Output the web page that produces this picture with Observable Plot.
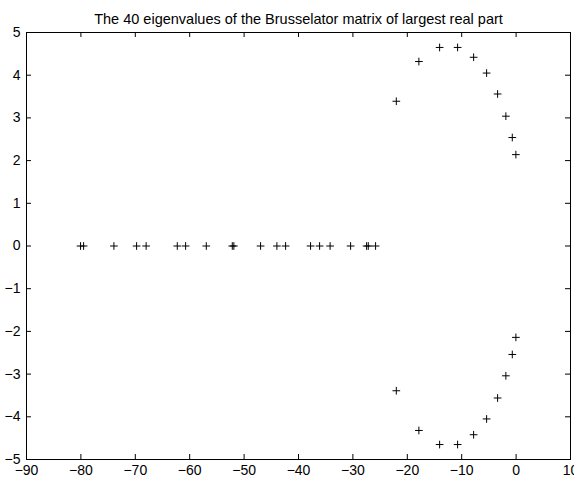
<!DOCTYPE html>
<html>
<head>
<meta charset="utf-8">
<script src="https://cdn.jsdelivr.net/npm/d3@7"></script>
<script src="https://cdn.jsdelivr.net/npm/@observablehq/plot@0.6"></script>
<style>
  html, body { margin: 0; padding: 0; background: #fff; }
  #chart svg { display: block; }
</style>
</head>
<body>
<div id="chart"></div>
<script>
// Eigenvalues on the real axis
const realRe = [-80.06, -79.50, -73.93, -69.76, -68.01, -62.28, -60.75, -56.95,
                -52.17, -51.88, -46.97, -43.97, -42.37, -37.78, -36.12, -34.19,
                -30.42, -27.48, -27.17, -25.83];
// Complex-conjugate pairs: real parts and positive imaginary parts
const pairRe = [-22.02, -17.87, -14.06, -10.75, -7.81, -5.42, -3.40, -1.88, -0.70, -0.04];
const pairIm = [3.39, 4.32, 4.65, 4.65, 4.42, 4.05, 3.56, 3.04, 2.54, 2.14];

const xTicks = [-90, -80, -70, -60, -50, -40, -30, -20, -10, 0, 10];
const yTicks = [-5, -4, -3, -2, -1, 0, 1, 2, 3, 4, 5];
const title = "The 40 eigenvalues of the Brusselator matrix of largest real part";

const eig = [
  ...realRe.map(re => ({re, im: 0})),
  ...pairRe.map((re, i) => ({re, im: pairIm[i]})),
  ...pairRe.map((re, i) => ({re, im: -pairIm[i]}))
];

const W = 574, H = 479;
const M = {top: 32, right: 4, bottom: 20, left: 26};
const innerW = W - M.left - M.right;
const innerH = H - M.top - M.bottom;
const T = 5; // tick length, drawn inward on all four sides

const chart = Plot.plot({
  width: W,
  height: H,
  marginTop: M.top,
  marginBottom: M.bottom,
  marginLeft: M.left,
  marginRight: M.right,
  style: {fontFamily: "'Liberation Sans', Arial, sans-serif", fontSize: "14px", color: "#000", background: "#fff"},
  x: {domain: [-90, 10], ticks: xTicks, label: null},
  y: {domain: [-5, 5], ticks: yTicks, label: null},
  marks: [
    Plot.frame({stroke: "#000", strokeWidth: 1}),
    // inward ticks: bottom, top, left, right
    Plot.tickX(xTicks, {x: d => d, stroke: "#000", insetTop: innerH - T}),
    Plot.tickX(xTicks, {x: d => d, stroke: "#000", insetBottom: innerH - T}),
    Plot.tickY(yTicks, {y: d => d, stroke: "#000", insetRight: innerW - T}),
    Plot.tickY(yTicks, {y: d => d, stroke: "#000", insetLeft: innerW - T}),
    // tick labels
    Plot.axisX(xTicks, {anchor: "bottom", tickSize: 0, tickPadding: 6, fontSize: 14, label: null}),
    Plot.axisY(yTicks, {anchor: "left", tickSize: 0, tickPadding: 6, fontSize: 14, label: null}),
    Plot.dot(eig, {x: "re", y: "im", symbol: "plus", r: 2.6, stroke: "#000", strokeWidth: 1}),
    Plot.text([title], {frameAnchor: "top", dy: -19, fontSize: 14.5, fill: "#000"})
  ]
});
document.getElementById("chart").appendChild(chart);
</script>
</body>
</html>
